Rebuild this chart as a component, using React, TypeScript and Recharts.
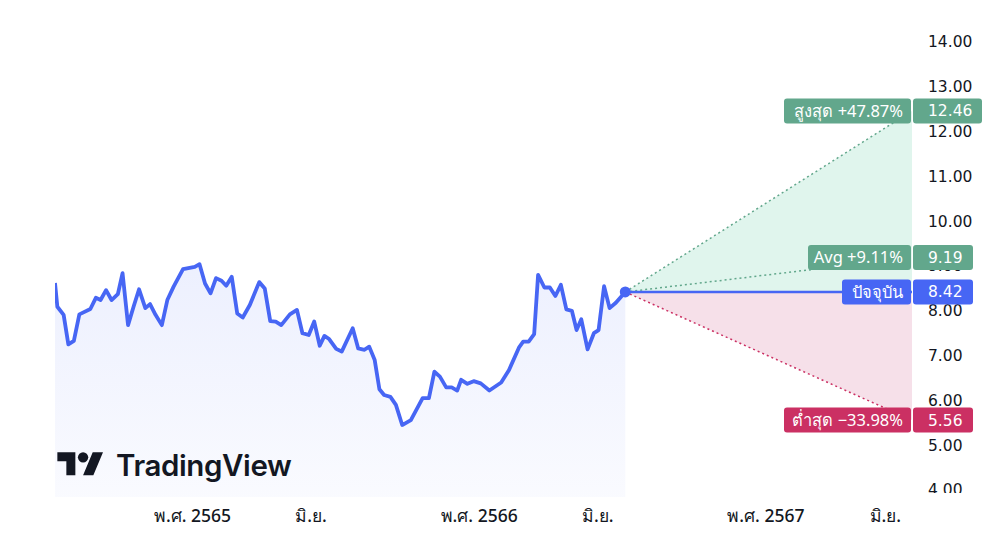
import React from 'react';
import {
  ComposedChart,
  Area,
  Line,
  XAxis,
  YAxis,
  ReferenceLine,
  ReferenceDot,
} from 'recharts';

// days counted from 1 Jan 2022 (พ.ศ. 2565)
const priceDays = [
  -175, -172, -164, -158, -151, -144, -130, -123, -117, -110, -103, -95, -89, -82, -75, -68, -60, -54,
  -47, -39, -32, -24, -12, 3, 9, 16, 23, 30, 37, 43, 50, 57, 64, 73, 85, 92, 99, 106, 113, 124, 133,
  140, 148, 155, 162, 168, 174, 183, 190, 204, 211, 219, 225, 232, 238, 244, 252, 259, 267, 278, 293,
  301, 308, 315, 323, 330, 337, 342, 350, 358, 367, 378, 393, 403, 416, 421, 428, 435, 440, 448, 455,
  462, 469, 476, 483, 489, 495, 503, 511, 517, 524, 531, 539, 551,
];
const priceValues = [
  8.62, 8.09, 7.91, 7.25, 7.33, 7.92, 8.04, 8.29, 8.24, 8.46, 8.24, 8.37, 8.84, 7.68, 8.09, 8.48, 8.06,
  8.15, 7.91, 7.68, 8.24, 8.54, 8.93, 8.98, 9.04, 8.61, 8.39, 8.73, 8.67, 8.56, 8.76, 7.94, 7.85, 8.13,
  8.64, 8.5, 7.77, 7.76, 7.68, 7.92, 8.02, 7.5, 7.46, 7.76, 7.22, 7.44, 7.37, 7.15, 7.09, 7.61, 7.16,
  7.13, 7.2, 6.9, 6.25, 6.12, 6.08, 5.9, 5.45, 5.56, 6.05, 6.05, 6.64, 6.53, 6.29, 6.29, 6.22, 6.46,
  6.37, 6.43, 6.38, 6.22, 6.4, 6.68, 7.19, 7.31, 7.31, 7.48, 8.8, 8.52, 8.52, 8.33, 8.58, 8.03, 8.0,
  7.57, 7.81, 7.14, 7.5, 7.57, 8.55, 8.06, 8.18, 8.42,
];

const forecastEndDay = 916;
const currentPrice = 8.42;
const highPrice = 12.46;
const avgPrice = 9.19;
const lowPrice = 5.56;

const xTicks = [0, 151, 365, 516, 730, 882];
const xTickLabels = ['พ.ศ. 2565', 'มิ.ย.', 'พ.ศ. 2566', 'มิ.ย.', 'พ.ศ. 2567', 'มิ.ย.'];
const yTicks = [4, 5, 6, 7, 8, 9, 10, 11, 12, 13, 14];

const tagLabels = ['สูงสุด +47.87%', 'Avg +9.11%', 'ปัจจุบัน', 'ต่ำสุด −33.98%'];

const BLUE = '#4766f4';
const GREEN = '#62a78c';
const RED = '#cb3063';
const TEXT = '#131722';
const FONT = '"Noto Sans", "DejaVu Sans", sans-serif';
const NUM_FONT = '"DejaVu Sans", "Noto Sans", sans-serif';

const lastDay = priceDays[priceDays.length - 1];

const data: any[] = priceDays.map((d, i) => ({ d, price: priceValues[i] }));
data[data.length - 1] = {
  ...data[data.length - 1],
  up: [currentPrice, currentPrice],
  down: [currentPrice, currentPrice],
  hi: currentPrice,
  avg: currentPrice,
  lo: currentPrice,
  cur: currentPrice,
};
data.push({
  d: forecastEndDay,
  up: [currentPrice, highPrice],
  down: [lowPrice, currentPrice],
  hi: highPrice,
  avg: avgPrice,
  lo: lowPrice,
  cur: currentPrice,
});

function XTick({ x, y, payload }: any) {
  const idx = xTicks.indexOf(payload.value);
  return (
    <text x={x} y={y + 17} textAnchor="middle" fontSize={17.5} fontFamily={FONT} fontWeight={500} fill={TEXT}>
      {xTickLabels[idx]}
    </text>
  );
}

// price scale labels, drawn as reference labels so the tags can sit above them
function YLabel({ viewBox, value }: any) {
  return (
    <text x={928} y={viewBox.y + 5.5} fontSize={15.5} fontFamily={NUM_FONT} fill={TEXT} clipPath="url(#yclip)">
      {value.toFixed(2)}
    </text>
  );
}

function PriceTag({ viewBox, label, price, color, labelWidth, priceWidth }: any) {
  const cy = viewBox.y;
  const right = 911;
  return (
    <g fill="#fff">
      <rect x={right - labelWidth} y={cy - 12.5} width={labelWidth} height={25} rx={3} fill={color} />
      <text x={right - 8} y={cy + 6} textAnchor="end" fill="#fff" fontFamily={FONT} fontSize={16.5}>
        {label}
      </text>
      <rect x={913} y={cy - 12.5} width={priceWidth} height={25} rx={3} fill={color} />
      <text x={928} y={cy + 5.5} fill="#fff" fontFamily={NUM_FONT} fontSize={15.5}>
        {price.toFixed(2)}
      </text>
    </g>
  );
}

export default function App() {
  return (
    <div style={{ position: 'relative', width: 1000, height: 558, background: '#fff' }}>
      <style>{'body{margin:0}'}</style>
      <ComposedChart width={1000} height={558} data={data} margin={{ top: 0, right: 0, left: 55, bottom: 0 }}>
        <defs>
          <linearGradient id="priceFill" x1="0" y1="0" x2="0" y2="1">
            <stop offset="0%" stopColor={BLUE} stopOpacity={0.1} />
            <stop offset="100%" stopColor={BLUE} stopOpacity={0.03} />
          </linearGradient>
          <clipPath id="yclip">
            <rect x={900} y={0} width={100} height={493} />
          </clipPath>
        </defs>
        <XAxis
          type="number"
          dataKey="d"
          domain={[-175, forecastEndDay]}
          ticks={xTicks}
          tick={<XTick />}
          axisLine={false}
          tickLine={false}
          height={61}
          allowDataOverflow
        />
        <YAxis
          orientation="right"
          type="number"
          domain={[3.8437, 14.9375]}
          ticks={yTicks}
          tick={false}
          axisLine={false}
          tickLine={false}
          width={88}
          allowDataOverflow
        />
        <Area dataKey="up" stroke="none" fill="#e0f5ed" fillOpacity={1} isAnimationActive={false} />
        <Area dataKey="down" stroke="none" fill="#f6e0e9" fillOpacity={1} isAnimationActive={false} />
        <Area
          dataKey="price"
          stroke={BLUE}
          strokeWidth={3.8}
          strokeLinejoin="round"
          fill="url(#priceFill)"
          fillOpacity={1}
          dot={false}
          activeDot={false}
          isAnimationActive={false}
        />
        <Line dataKey="hi" stroke={GREEN} strokeWidth={1.5} strokeDasharray="2 3" dot={false} isAnimationActive={false} />
        <Line dataKey="avg" stroke={GREEN} strokeWidth={1.5} strokeDasharray="2 3" dot={false} isAnimationActive={false} />
        <Line dataKey="lo" stroke={RED} strokeWidth={1.5} strokeDasharray="2 3" dot={false} isAnimationActive={false} />
        <Line dataKey="cur" stroke={BLUE} strokeWidth={2.5} dot={false} isAnimationActive={false} />
        <ReferenceDot x={lastDay} y={currentPrice} r={5.5} fill={BLUE} stroke="none" />
        {yTicks.map((v) => (
          <ReferenceLine key={v} y={v} stroke="none" label={<YLabel value={v} />} />
        ))}
        <ReferenceLine
          y={highPrice}
          stroke="none"
          label={<PriceTag label={tagLabels[0]} price={highPrice} color={GREEN} labelWidth={127} priceWidth={69} />}
        />
        <ReferenceLine
          y={avgPrice}
          stroke="none"
          label={<PriceTag label={tagLabels[1]} price={avgPrice} color={GREEN} labelWidth={103} priceWidth={60} />}
        />
        <ReferenceLine
          y={currentPrice}
          stroke="none"
          label={<PriceTag label={tagLabels[2]} price={currentPrice} color={BLUE} labelWidth={69} priceWidth={60} />}
        />
        <ReferenceLine
          y={lowPrice}
          stroke="none"
          label={<PriceTag label={tagLabels[3]} price={lowPrice} color={RED} labelWidth={127} priceWidth={60} />}
        />
      </ComposedChart>
      <div
        style={{
          position: 'absolute',
          left: 57,
          top: 447,
          display: 'flex',
          alignItems: 'center',
          gap: 12,
          color: TEXT,
          pointerEvents: 'none',
        }}
      >
        <svg width={47} height={36} viewBox="0 0 36 28">
          <path d="M14 22H7V11H0V4h14v18zM28 22h-8l7.5-18h8L28 22z" fill={TEXT} />
          <circle cx={20} cy={8} r={4} fill={TEXT} />
        </svg>
        <span style={{ fontFamily: 'Inter, sans-serif', fontWeight: 600, fontSize: 29.5, letterSpacing: -0.4 }}>
          TradingView
        </span>
      </div>
    </div>
  );
}
